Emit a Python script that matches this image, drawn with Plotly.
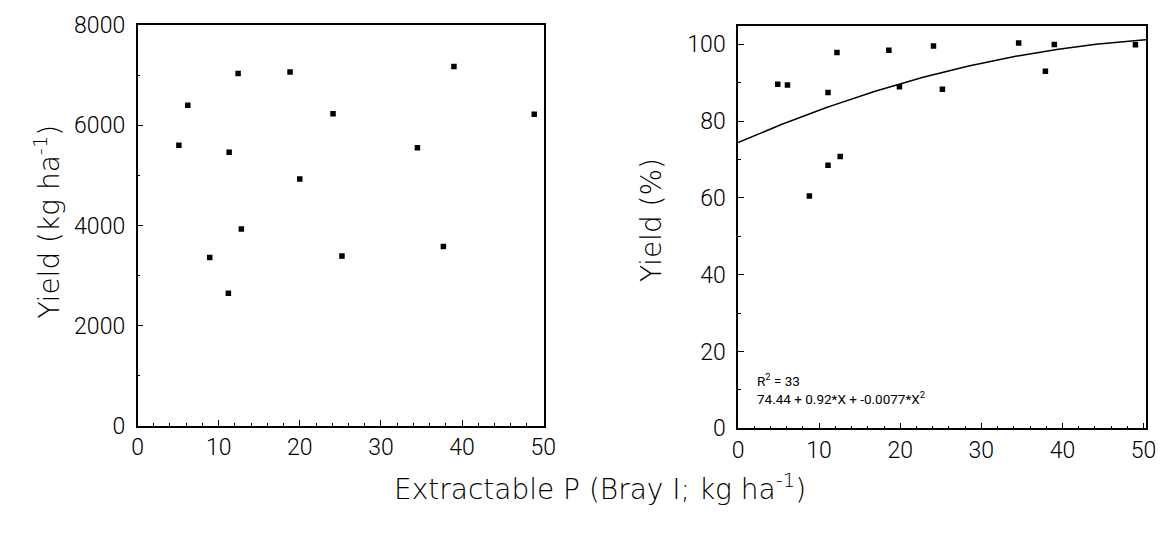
import numpy as np
import plotly.graph_objects as go

# Extractable P (Bray I, kg/ha) for each site
p_left = [5.1, 6.2, 8.9, 11.2, 11.3, 12.4, 12.8, 18.8, 20.0, 24.1, 25.2, 34.5, 37.7, 39.0, 48.9]
# Grain yield (kg/ha)
yield_kg = [5600, 6400, 3360, 2650, 5460, 7030, 3930, 7060, 4930, 6230, 3390, 5550, 3580, 7170, 6220]

p_right = [4.9, 6.1, 8.8, 11.1, 11.1, 12.2, 12.6, 18.6, 19.9, 24.1, 25.2, 34.6, 37.9, 39.0, 49.0]
# Relative yield (%)
yield_pct = [89.6, 89.4, 60.5, 68.5, 87.5, 97.9, 70.8, 98.5, 89.0, 99.6, 88.3, 100.4, 93.0, 100.0, 99.9]

# Quadratic fit coefficients
b0, b1, b2 = 74.44, 0.92, -0.0077
x_fit = np.linspace(0, 50.3, 120)
y_fit = b0 + b1 * x_fit + b2 * x_fit ** 2

TICK_FAMILY = "Roboto"
TITLE_FAMILY = "DejaVu Sans"
INK = "#000"
TICK_FONT = dict(family=TICK_FAMILY, size=23, color=INK, weight=300)
TITLE_FONT = dict(family=TITLE_FAMILY, size=28, color=INK, weight=200)
NOTE_FONT = dict(family=TICK_FAMILY, size=13.5, color=INK)

W, H = 1170, 535

fig = go.Figure()

marker = dict(symbol="square", size=5.5, color="black", line=dict(width=0))

fig.add_trace(go.Scatter(x=p_left, y=yield_kg, mode="markers", marker=marker,
                         xaxis="x", yaxis="y", showlegend=False))
fig.add_trace(go.Scatter(x=x_fit, y=y_fit, mode="lines",
                         line=dict(color="black", width=1.5),
                         xaxis="x2", yaxis="y2", showlegend=False))
fig.add_trace(go.Scatter(x=p_right, y=yield_pct, mode="markers", marker=marker,
                         xaxis="x2", yaxis="y2", showlegend=False))

common_axis = dict(
    showgrid=False, zeroline=False, showline=True, linecolor="black", linewidth=1.5,
    mirror=True, ticks="inside", ticklen=6, tickwidth=1.2, tickcolor="black",
    tickfont=TICK_FONT, automargin=False,
)
minor_x = dict(dtick=2, ticks="inside", ticklen=3, tickcolor="black", tickwidth=1)

fig.update_layout(
    width=W, height=H,
    margin=dict(l=0, r=0, t=0, b=0),
    paper_bgcolor="white", plot_bgcolor="white",
    font=dict(family=TICK_FAMILY, color=INK),
    xaxis=dict(common_axis, domain=[137.5 / W, 544 / W], range=[0, 50.1],
               tickvals=[0, 10, 20, 30, 40, 50], anchor="y", minor=minor_x),
    yaxis=dict(common_axis, domain=[1 - 426 / H, 1 - 25 / H], range=[0, 8000],
               tickvals=[0, 2000, 4000, 6000, 8000], anchor="x", ticklabelstandoff=6,
               minor=dict(dtick=1000, ticks="inside", ticklen=3, tickcolor="black", tickwidth=1)),
    xaxis2=dict(common_axis, domain=[738 / W, 1146 / W], range=[0, 50.3],
                tickvals=[0, 10, 20, 30, 40, 50], anchor="y2", minor=minor_x),
    yaxis2=dict(common_axis, domain=[1 - 428.3 / H, 1 - 26 / H], range=[0, 104.8],
                tickvals=[0, 20, 40, 60, 80, 100], anchor="x2", ticklabelstandoff=6,
                minor=dict(dtick=10, ticks="inside", ticklen=3, tickcolor="black", tickwidth=1)),
)

# Axis titles
fig.add_annotation(text="Yield (kg ha<sup>-1</sup>)", textangle=-90,
                   x=27 / W, y=1 - 222 / H, xref="paper", yref="paper",
                   showarrow=False, font=TITLE_FONT)
fig.add_annotation(text="Yield (%)", textangle=-90,
                   x=651 / W, y=1 - 220 / H, xref="paper", yref="paper",
                   showarrow=False, font=TITLE_FONT)
fig.add_annotation(text="Extractable P (Bray I; kg ha<sup>-1</sup>)",
                   x=600 / W, y=1 - 508 / H, xref="paper", yref="paper",
                   showarrow=False, font=TITLE_FONT)

# Regression statistics
fig.add_annotation(text="R<sup>2</sup> = 33", x=2.1, y=12.6, xref="x2", yref="y2",
                   xanchor="left", showarrow=False, font=NOTE_FONT)
fig.add_annotation(text="74.44 + 0.92*X + -0.0077*X<sup>2</sup>", x=2.1, y=8.0,
                   xref="x2", yref="y2", xanchor="left", showarrow=False, font=NOTE_FONT)

fig.write_html("out.html")
